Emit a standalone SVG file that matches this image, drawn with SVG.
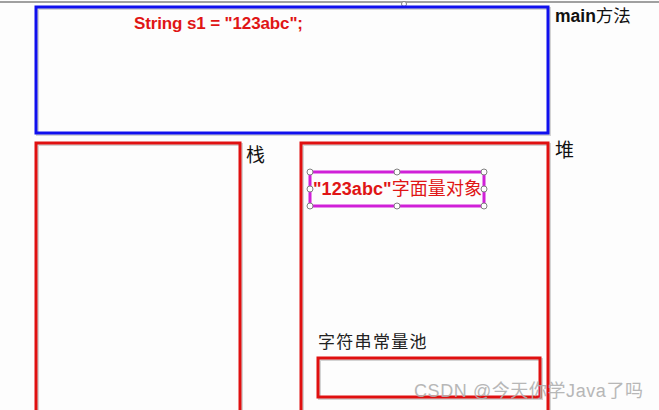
<svg xmlns="http://www.w3.org/2000/svg" width="659" height="410" viewBox="0 0 659 410">
<defs>
<style>
.blue{fill:none;stroke:#1010ee;stroke-width:3}
.red{fill:none;stroke:#e01010;stroke-width:3}
.shadow{fill:none;stroke:#b8b8b8;stroke-width:3;opacity:0.6}
.mag{fill:none;stroke:#d020d8;stroke-width:3}
.handle{fill:#fff;stroke:#808080;stroke-width:1}
.lbl{font-family:"Liberation Sans","Noto Sans CJK SC",sans-serif;fill:#111;font-size:17px}
.code{font-family:"Liberation Sans","Noto Sans CJK SC",sans-serif;fill:#e01515;font-size:17px;font-weight:bold}
.wm{font-family:"Liberation Sans","Noto Sans CJK SC",sans-serif;fill:#b0b0b0;font-size:18px;opacity:0.9}
</style>
</defs>
<rect width="659" height="410" fill="#fdfdfd"/>
<line x1="0" y1="2" x2="659" y2="2" stroke="#a0a0a0" stroke-width="2"/>
<circle cx="404" cy="4" r="2.5" class="handle"/>
<g id="main">
<rect x="37.5" y="8.5" width="512" height="126" class="shadow"/>
<rect x="36" y="7" width="512" height="126" class="blue"/>
<text x="134" y="29" class="code" textLength="169">String s1 = "123abc";</text>
<text x="555" y="22" class="lbl" style="font-weight:bold;font-size:17.5px">main<tspan style="font-weight:normal">方法</tspan></text>
</g>
<g id="stack">
<rect x="37.5" y="144.5" width="204" height="280" class="shadow"/>
<rect x="36" y="143" width="204" height="280" class="red"/>
<text x="246" y="162" class="lbl" style="font-size:19px">栈</text>
</g>
<g id="heap">
<rect x="302.5" y="144.5" width="247" height="280" class="shadow"/>
<rect x="301" y="143" width="247" height="280" class="red"/>
<text x="555" y="157" class="lbl" style="font-size:19px">堆</text>
</g>
<g id="literal">
<rect x="310" y="172" width="174" height="34" class="mag"/>
<text x="313" y="195" class="code" style="font-size:18px" textLength="169">"123abc"<tspan style="font-weight:normal">字面量对象</tspan></text>
<circle cx="310" cy="172" r="3" class="handle"/>
<circle cx="397" cy="172" r="3" class="handle"/>
<circle cx="484" cy="172" r="3" class="handle"/>
<circle cx="310" cy="189" r="3" class="handle"/>
<circle cx="484" cy="189" r="3" class="handle"/>
<circle cx="310" cy="206" r="3" class="handle"/>
<circle cx="397" cy="206" r="3" class="handle"/>
<circle cx="484" cy="206" r="3" class="handle"/>
</g>
<g id="pool">
<text x="318" y="348" class="lbl" style="letter-spacing:1.3px;fill:#222">字符串常量池</text>
<rect x="319.5" y="359.5" width="222" height="39" class="shadow"/>
<rect x="318" y="358" width="222" height="39" class="red"/>
</g>
<g id="connectors"></g>
<text x="414" y="397" class="wm" textLength="229">CSDN @今天你学Java了吗</text>
</svg>
